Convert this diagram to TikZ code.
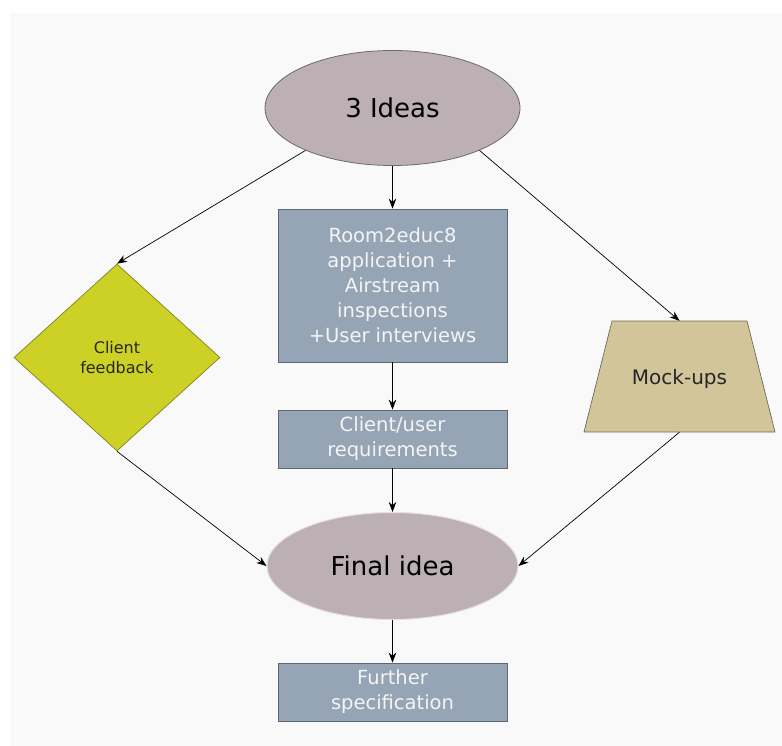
\documentclass[tikz,border=0pt]{standalone}
\usepackage{fontspec}
\setmainfont{DejaVu Sans}
\usetikzlibrary{shapes.geometric,arrows.meta}
\definecolor{panel}{HTML}{F9F9F9}
\definecolor{ideafill}{HTML}{BCB0B5}
\definecolor{ideaedge}{HTML}{6E6A6C}
\definecolor{boxfill}{HTML}{95A5B6}
\definecolor{boxedge}{HTML}{5E6873}
\definecolor{boxtext}{HTML}{F4F4F4}
\definecolor{diafill}{HTML}{CDD125}
\definecolor{diaedge}{HTML}{7F8220}
\definecolor{trapfill}{HTML}{D2C59A}
\definecolor{trapedge}{HTML}{6F6A58}
\begin{document}
\begin{tikzpicture}[x=1pt,y=-1pt,
  idea/.style={ellipse, fill=ideafill, draw=ideaedge, line width=0.8pt,
    inner sep=0pt, text=black, font=\fontsize{26}{30}\selectfont},
  stepbox/.style={rectangle, fill=boxfill, draw=boxedge, line width=0.8pt,
    minimum width=229pt, inner sep=0pt, align=center, text=boxtext,
    font=\fontsize{19.5}{25}\selectfont},
  decision/.style={diamond, fill=diafill, draw=diaedge, line width=0.7pt,
    minimum width=206pt, minimum height=187pt, inner sep=0pt, align=center,
    text=black!85, font=\fontsize{16}{20}\selectfont},
  mockshape/.style={fill=trapfill, draw=trapedge, line width=0.7pt},
  mocklabel/.style={rectangle, minimum width=191pt, minimum height=111pt,
    inner sep=0pt, text height=21.2pt, text depth=4.7pt,
    text=black!85, font=\fontsize{20}{24}\selectfont},
  flow/.style={-{Stealth[length=10pt,width=7.5pt]}, line width=0.7pt, black}]

% canvas
\useasboundingbox (0,0) rectangle (782,746);
\fill[panel] (10,13) rectangle (782,746);

% mock-up trapezoid, drawn beneath its label node
\draw[mockshape] (584,432) -- (775,432) -- (747,321) -- (612,321) -- cycle;

% nodes
\node[idea, minimum width=255pt, minimum height=115pt] (ideas) at (392.5,108) {3 Ideas};
\node[stepbox, minimum height=153pt] (research) at (392.5,285.5)
  {Room2educ8\\application +\\Airstream\\inspections\\+User interviews};
\node[stepbox, minimum height=58pt] (reqs) at (392.5,439) {Client/user\\requirements};
\node[decision] (client) at (117,357.5) {Client\\feedback};
\node[mocklabel] (mock) at (679.5,376.5) {Mock-ups};
\node[idea, draw=ideafill!40!white, line width=1pt, minimum width=251pt, minimum height=107pt]
  (final) at (392.5,566) {Final idea};
\node[stepbox, minimum height=58pt] (spec) at (392.5,692) {Further\\specification};

% connectors
\draw[flow] (ideas.206) -- (client.north);
\draw[flow] (ideas.south) -- (research.north);
\draw[flow] (ideas.334) -- (mock.north);
\draw[flow] (research.south) -- (reqs.north);
\draw[flow] (reqs.south) -- (final.north);
\draw[flow] (client.south) -- (final.west);
\draw[flow] (mock.south) -- (final.east);
\draw[flow] (final.south) -- (spec.north);
\end{tikzpicture}
\end{document}
